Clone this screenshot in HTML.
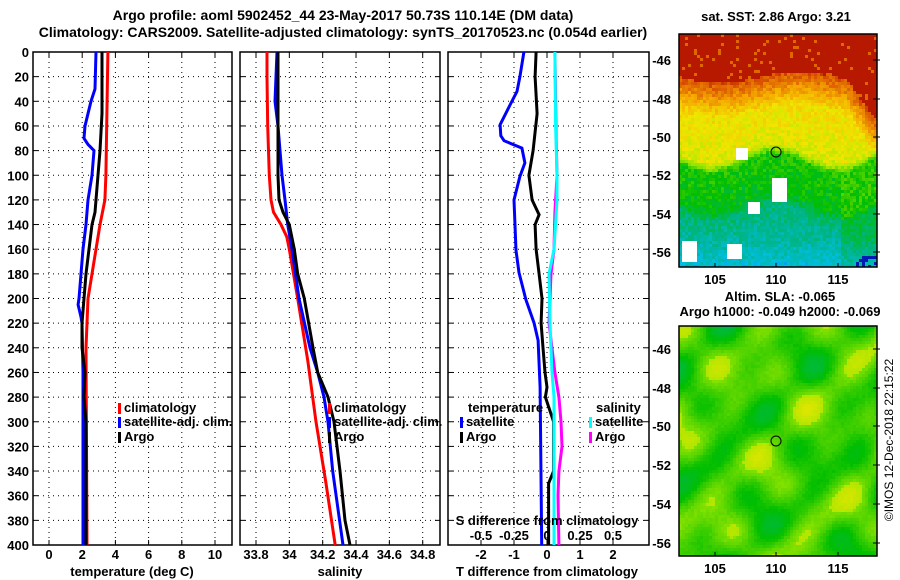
<!DOCTYPE html>
<html><head><meta charset="utf-8">
<style>
html,body{margin:0;padding:0;background:#fff;}
svg{display:block;font-family:"Liberation Sans",sans-serif;font-weight:bold;}
text{font-size:13px;fill:#000;}
</style></head>
<body>
<svg id="fig" width="900" height="580" viewBox="0 0 900 580">
<text x="343" y="20" text-anchor="middle" style="font-size:14px">Argo profile: aoml 5902452_44 23-May-2017 50.73S 110.14E (DM data)</text>
<text x="343" y="37" text-anchor="middle" style="font-size:14px">Climatology: CARS2009. Satellite-adjusted climatology: synTS_20170523.nc (0.054d earlier)</text>
<g id="plots"></g>
<g id="maps"></g>
<text x="776" y="21" text-anchor="middle">sat. SST: 2.86 Argo: 3.21</text>
<text x="780" y="301" text-anchor="middle">Altim. SLA: -0.065</text>
<text x="780" y="316" text-anchor="middle">Argo h1000: -0.049 h2000: -0.069</text>
<text transform="translate(893,440) rotate(-90)" text-anchor="middle" style="font-size:12px;font-weight:normal">©IMOS 12-Dec-2018 22:15:22</text>
</svg>
<script>
// ---- data ----
const depthTicks=[0,20,40,60,80,100,120,140,160,180,200,220,240,260,280,300,320,340,360,380,400];
const tempTicks=[0,2,4,6,8,10];
const salTicks=[33.8,34,34.2,34.4,34.6,34.8];
const tdiffTicks=[-2,-1,0,1,2];
const sdiffTicks=[-0.5,-0.25,0,0.25,0.5];
const sdiffLabels=["-0.5","-0.25","0","0.25","0.5"];

const tClimDepth=[0,40,100,120,140,160,180,200,220,240,400];
const tClimVal=[3.55,3.5,3.43,3.37,3.07,2.83,2.59,2.35,2.29,2.23,2.29];
const tArgoDepth=[0,50,80,100,120,130,140,160,180,200,220,240,260,280,300,400];
const tArgoVal=[3.19,3.19,3.07,2.95,2.83,2.77,2.59,2.41,2.23,2.11,1.99,1.99,2.17,2.11,2.23,2.23];
const tSatDepth=[0,30,40,50,60,70,75,80,100,120,140,160,180,200,205,215,220,260,400];
const tSatVal=[2.83,2.77,2.53,2.35,2.17,2.11,2.35,2.71,2.59,2.35,2.23,2.05,1.93,1.81,1.75,1.93,1.99,2.05,2.05];

const sClimDepth=[0,20,60,100,120,130,140,150,160,200,250,300,350,400];
const sClimVal=[33.866,33.866,33.87,33.88,33.89,33.905,33.95,33.985,34.0,34.05,34.11,34.16,34.22,34.275];
const sSatDepth=[0,40,60,80,100,120,140,160,200,240,260,280,300,340,400];
const sSatVal=[33.926,33.914,33.932,33.944,33.956,33.974,33.99,34.016,34.058,34.124,34.17,34.208,34.232,34.26,34.322];
const sArgoDepth=[0,100,120,130,140,160,180,200,240,260,280,300,320,340,380,400];
const sArgoVal=[33.932,33.932,33.938,33.962,34.0,34.03,34.05,34.09,34.142,34.17,34.232,34.268,34.286,34.304,34.334,34.364];

const dtSatDepth=[0,20,32,43,59,68,72,78,90,101,120,161,179,201,220,234,272,400];
const dtSatVal=[-0.7,-0.82,-0.91,-1.12,-1.42,-1.4,-1.3,-0.76,-0.67,-0.82,-1.0,-0.94,-0.85,-0.64,-0.39,-0.27,-0.21,-0.16];
const dtArgoDepth=[0,20,50,80,100,120,132,140,160,180,200,220,240,260,272,280,300,340,350,400];
const dtArgoVal=[-0.33,-0.36,-0.3,-0.42,-0.55,-0.45,-0.24,-0.36,-0.33,-0.24,-0.15,-0.18,-0.12,-0.06,0.0,-0.05,0.2,0.2,0.05,0.05];
const dsSatDepth=[0,60,100,120,160,180,220,260,280,400];
const dsSatVal=[0.06,0.065,0.076,0.076,0.053,0.015,0.023,0.038,0.053,0.053];
const dsArgoDepth=[0,70,100,130,160,180,200,220,260,280,300,320,340,360,400];
const dsArgoVal=[0.06,0.07,0.076,0.06,0.053,0.03,0.023,0.015,0.06,0.09,0.106,0.114,0.09,0.083,0.09];

// ---- helpers ----
const NS="http://www.w3.org/2000/svg";
const plots=document.getElementById('plots');
function mk(tag,attrs,parent){const e=document.createElementNS(NS,tag);for(const k in attrs)e.setAttribute(k,attrs[k]);(parent||plots).appendChild(e);return e;}
const top0=52,bot=545;
const yD=d=>top0+d*(bot-top0)/400;
const xT=v=>49+v*16.6;
const xS=v=>256+(v-33.8)*166.7;
const xDT=v=>547+v*33;
const xDS=v=>547+v*132;

function panel(x0,x1,xTicks,xf,xlabels,name){
  const g=mk('g',{});
  
  
  depthTicks.forEach(d=>{const y=yD(d);
    const l=mk('line',{x1:x0,x2:x1,y1:y,y2:y,stroke:'#000','stroke-width':1,'stroke-dasharray':'1 4'},g);
    
    mk('line',{x1:x0,x2:x0+5,y1:y,y2:y,stroke:'#000'},g);
    mk('line',{x1:x1-5,x2:x1,y1:y,y2:y,stroke:'#000'},g);});
  xTicks.forEach((v,i)=>{const x=xf(v);
    const l=mk('line',{x1:x,x2:x,y1:top0,y2:bot,stroke:'#000','stroke-width':1,'stroke-dasharray':'1 4'},g);
    
    mk('line',{x1:x,x2:x,y1:bot-5,y2:bot,stroke:'#000'},g);
    mk('line',{x1:x,x2:x,y1:top0,y2:top0+5,stroke:'#000'},g);
    const t=mk('text',{x:x,y:559,'text-anchor':'middle'},g);t.textContent=xlabels?xlabels[i]:String(v);
    });
  mk('rect',{x:x0,y:top0,width:x1-x0,height:bot-top0,fill:'none',stroke:'#000','stroke-width':1.5},g);
  return g;
}
function series(dep,val,xf,color,name){
  const pts=dep.map((d,i)=>xf(val[i]).toFixed(1)+','+yD(d).toFixed(1)).join(' ');
  const p=mk('polyline',{points:pts,fill:'none',stroke:color,'stroke-width':3,'stroke-linejoin':'miter'});
  
  
}
depthTicks.forEach(d=>{const t=mk('text',{x:29,y:yD(d)+5,'text-anchor':'end'});t.textContent=d;
  });

panel(33,232,tempTicks,xT,null,'temperature-panel');
panel(240,440,salTicks,xS,["33.8","34","34.2","34.4","34.6","34.8"],'salinity-panel');
panel(448,649,tdiffTicks,xDT,null,'difference-panel');

series(tClimDepth,tClimVal,xT,'#ff0000','temp-climatology-line');
series(tSatDepth,tSatVal,xT,'#0000ff','temp-satellite-line');
series(tArgoDepth,tArgoVal,xT,'#000000','temp-argo-line');
series(sClimDepth,sClimVal,xS,'#ff0000','sal-climatology-line');
series(sSatDepth,sSatVal,xS,'#0000ff','sal-satellite-line');
series(sArgoDepth,sArgoVal,xS,'#000000','sal-argo-line');
series(dtSatDepth,dtSatVal,xDT,'#0000ff','tdiff-satellite-line');
series(dtArgoDepth,dtArgoVal,xDT,'#000000','tdiff-argo-line');
series(dsArgoDepth,dsArgoVal,xDS,'#ff00ff','sdiff-argo-line');
series(dsSatDepth,dsSatVal,xDS,'#00ffff','sdiff-satellite-line');

sdiffTicks.forEach((v,i)=>{const t=mk('text',{x:xDS(v),y:540,'text-anchor':'middle'});t.textContent=sdiffLabels[i];
  });
function txt(x,y,s,name,anchor){const t=mk('text',{x:x,y:y,'text-anchor':anchor||'start'});t.textContent=s;return t;}
txt(547,525,'S difference from climatology','s-diff-axis-title','middle');
txt(132,576,'temperature (deg C)','x-axis-title-temperature','middle');
txt(340,576,'salinity','x-axis-title-salinity','middle');
txt(547,576,'T difference from climatology','x-axis-title-tdiff','middle');

function legend(x,y,color,label,name){
  const r=mk('rect',{x:x,y:y-9,width:3,height:11,fill:color});
  
  txt(x+6,y,label,name);
}
legend(118,412,'#ff0000','climatology','legend-climatology');
legend(118,426,'#0000ff','satellite-adj. clim.','legend-satellite-adj');
legend(118,441,'#000000','Argo','legend-argo');
legend(328,412,'#ff0000','climatology','legend-sal-climatology');
legend(328,426,'#0000ff','satellite-adj. clim.','legend-sal-satellite-adj');
legend(328,441,'#000000','Argo','legend-sal-argo');
txt(468,412,'temperature','legend-temperature-header');
legend(460,426,'#0000ff','satellite','legend-tdiff-satellite');
legend(460,441,'#000000','Argo','legend-tdiff-argo');
txt(596,412,'salinity','legend-salinity-header');
legend(589,426,'#00ffff','satellite','legend-sdiff-satellite');
legend(589,441,'#ff00ff','Argo','legend-sdiff-argo');

// ---- maps ----
const maps=document.getElementById('maps');
function hash(i,j){let h=(i*374761393+j*668265263)>>>0;h=(h^(h>>>13))*1274126177>>>0;return ((h^(h>>>16))>>>0)/4294967295;}
const cmap=[[0,0,140],[0,60,230],[0,190,230],[0,180,130],[0,190,0],[150,230,0],[240,230,0],[245,170,0],[220,90,0],[170,0,0]];
function col(v){v=Math.max(0,Math.min(0.999,v))*(cmap.length-1);const i=Math.floor(v),f=v-i;const a=cmap[i],b=cmap[Math.min(i+1,cmap.length-1)];
  return 'rgb('+a.map((c,k)=>Math.round(c+(b[k]-c)*f)).join(',')+')';}
function interp(y,ys,vs){if(y<=ys[0])return vs[0];for(let k=1;k<ys.length;k++)if(y<=ys[k]){const f=(y-ys[k-1])/(ys[k]-ys[k-1]);return vs[k-1]+f*(vs[k]-vs[k-1]);}return vs[vs.length-1];}
function mapFrame(x0,y0,w,h,latYs,name,cellFn){
  const g=document.createElementNS(NS,'g');maps.appendChild(g);
  
  const cs=3;
  for(let j=0;j*cs<h;j++)for(let i=0;i*cs<w;i++){
    const c=cellFn(i,j,x0+i*cs,y0+j*cs);if(!c)continue;
    mk('rect',{x:x0+i*cs,y:y0+j*cs,width:Math.min(cs,w-i*cs),height:Math.min(cs,h-j*cs),fill:c},g);}
  mk('rect',{x:x0,y:y0,width:w,height:h,fill:'none',stroke:'#000','stroke-width':1.5},g);
  const lats=[-46,-48,-50,-52,-54,-56];
  lats.forEach((l,k)=>{const y=latYs[k];mk('line',{x1:x0+w-4,x2:x0+w+3,y1:y,y2:y,stroke:'#000'},g);
    const t=mk('text',{x:x0-8,y:y+5,'text-anchor':'end'},g);t.textContent=String(l);
    });
  [[105,715],[110,776],[115,838]].forEach(p=>{mk('line',{x1:p[1],x2:p[1],y1:y0+h-4,y2:y0+h,stroke:'#000'},g);
    const t=mk('text',{x:p[1],y:y0+h+17,'text-anchor':'middle'},g);t.textContent=p[0];
    });
  const c=mk('circle',{cx:776,cy:latYs[2]+15,r:5,fill:'none',stroke:'#000','stroke-width':1},g);
  
}
mapFrame(679,34,198,233,[60,99,137,175,214,252],'sst-map',(i,j,x,y)=>{
  const n=hash(i,j);
  let bnd=82+6*Math.sin((x-679)/25)+(x>845?(x-845)*1.2:0);
  let v;
  if(y<bnd-6) v=0.97-(n>0.93?0.1:0);
  else{
    const gb=162+10*Math.sin((x-679)/20);
    v=interp(y,[bnd-6,bnd+14,bnd+28,gb-10,gb,gb+38,gb+50,240,267],[0.9,0.78,0.68,0.64,0.46,0.43,0.34,0.30,0.23]);
    if(x>840&&y>gb)v=Math.min(v+0.06,0.47);
    v+=0.08*(n-0.5);
  }
  if(x>855&&y>255&&n>0.5) v=0.05;
  if((x>770&&x<785&&y>175&&y<200)||(x>745&&x<760&&y>200&&y<212)||(x>680&&x<695&&y>240&&y<262)||(x>735&&x<747&&y>146&&y<158)||(x>725&&x<740&&y>243&&y<258)) return '#fff';
  return col(v);
});
mapFrame(679,326,198,230,[349,388,426,465,504,543],'sla-map',(i,j,x,y)=>{
  const s=Math.sin(x/11+y/40)*Math.cos(y/13)+0.6*Math.sin((x+y)/19)+0.5*Math.cos((x-2*y)/27);
  let v=0.49+0.05*s+0.015*(hash(i,j)-0.5);
  if(s>1.0)v+=0.05;
  return col(v);
});
</script>
</body></html>
